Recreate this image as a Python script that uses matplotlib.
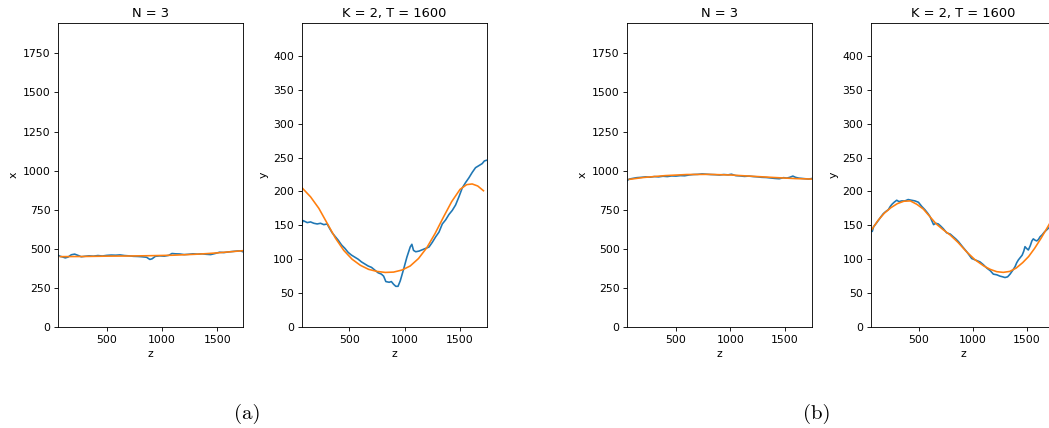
import matplotlib
matplotlib.use("Agg")
import matplotlib.pyplot as plt

# ---------------- data ----------------
# Panel (a), left axes: x vs z
a1_blue_z = [62, 80, 100, 125, 150, 180, 210, 240, 270, 300, 340, 380, 420, 460, 500, 540, 580, 620,
             660, 700, 740, 780, 820, 860, 890, 910, 940, 980, 1020, 1060, 1090, 1120, 1160, 1200,
             1240, 1280, 1320, 1360, 1400, 1440, 1480, 1520, 1560, 1600, 1640, 1680, 1710, 1735]
a1_blue_x = [458, 452, 448, 442, 447, 462, 466, 458, 449, 452, 455, 453, 457, 454, 458, 460, 459, 461,
             457, 455, 452, 451, 449, 446, 432, 436, 452, 455, 453, 458, 470, 468, 467, 463,
             465, 468, 466, 468, 465, 463, 470, 478, 476, 480, 483, 486, 487, 480]
a1_fit_z = [80, 200, 300, 400, 500, 600, 700, 800, 900, 1000, 1100, 1200, 1300, 1400, 1500, 1600, 1700, 1730]
a1_fit_x = [450, 450.5, 451, 452, 453, 453.5, 454, 455, 456, 457.5, 459, 462, 465, 469, 474, 480, 486, 488]

# Panel (a), right axes: y vs z
a2_blue_z = [70, 80, 95, 120, 150, 180, 210, 240, 270, 300, 320, 345, 370, 400, 430, 460, 490, 520,
             550, 580, 610, 640, 670, 700, 730, 760, 790, 810, 830, 860, 880, 900, 920, 940, 960,
             990, 1020, 1050, 1065, 1080, 1100, 1130, 1160, 1190, 1220, 1250, 1280, 1310, 1340,
             1370, 1400, 1430, 1460, 1490, 1520, 1550, 1580, 1610, 1640, 1670, 1700, 1720, 1741]
a2_blue_y = [149, 157, 156, 154, 155, 153, 152, 153, 151, 152, 146, 139, 134, 128, 121, 116, 110, 106,
             103, 100, 96, 93, 90, 88, 84, 80, 78, 75, 67, 66, 67, 63, 60, 60, 68,
             85, 103, 118, 122, 113, 111, 112, 114, 116, 118, 125, 133, 140, 152,
             158, 166, 172, 180, 192, 205, 213, 220, 228, 235, 238, 241, 245, 246]
a2_fit_z = [75, 150, 225, 300, 375, 450, 525, 600, 675, 750, 825, 900, 975, 1050, 1125, 1200,
            1275, 1350, 1425, 1500, 1560, 1610, 1660, 1712]
a2_fit_y = [205, 192, 175, 153, 131, 113, 100, 91, 85, 82, 80.5, 81, 84, 90, 101, 117,
            138, 162, 185, 203, 210, 211, 208, 201]

# Panel (b), left axes: x vs z
b1_blue_z = [52, 70, 100, 140, 180, 220, 260, 300, 340, 380, 420, 460, 500, 540, 580, 620, 660, 700,
             740, 780, 820, 860, 900, 940, 980, 1010, 1050, 1090, 1130, 1170, 1210, 1250, 1290,
             1330, 1370, 1410, 1450, 1490, 1520, 1550, 1575, 1600, 1630, 1660, 1690, 1720, 1754]
b1_blue_x = [937, 946, 950, 955, 957, 960, 958, 962, 960, 964, 962, 966, 965, 968, 967, 972, 975, 976,
             979, 977, 975, 974, 972, 975, 973, 977, 968, 966, 963, 965, 962, 960, 957,
             956, 953, 950, 948, 955, 952, 958, 965, 957, 952, 950, 948, 946, 950]
b1_fit_z = [70, 200, 400, 600, 800, 1000, 1200, 1400, 1600, 1750]
b1_fit_x = [944, 956, 968, 975, 976, 972, 964, 956, 949, 946]

# Panel (b), right axes: y vs z
b2_blue_z = [56, 68, 80, 100, 123, 145, 169, 190, 216, 235, 250, 270, 294, 315, 340, 370, 400, 430,
             463, 495, 525, 555, 580, 602, 618, 635, 655, 679, 700, 725, 756, 790, 818, 840, 865,
             900, 942, 965, 988, 1020, 1065, 1095, 1127, 1160, 1188, 1220, 1250, 1275, 1296, 1320,
             1343, 1365, 1389, 1405, 1420, 1440, 1455, 1470, 1481, 1495, 1512, 1530, 1545, 1558,
             1575, 1590, 1605, 1620, 1640, 1660, 1680, 1700, 1720, 1745, 1768]
b2_blue_y = [143, 141, 148, 152, 157, 162, 167, 170, 173, 178, 181, 184, 187, 185, 186, 186, 188, 187,
             186, 184, 178, 173, 168, 163, 157, 151, 153, 152, 149, 145, 139, 137, 133, 130, 126,
             119, 111, 106, 101, 99, 96, 92, 87, 83, 78, 77, 75, 74, 73, 74,
             78, 83, 89, 95, 99, 103, 106, 112, 118.5, 116, 113.6, 120, 127, 130,
             128, 127, 129, 133, 136, 140, 143, 146, 149, 155, 162]
b2_fit_z = [60, 120, 180, 240, 300, 360, 420, 480, 540, 600, 660, 720, 790, 860, 940, 1020, 1100,
            1160, 1220, 1280, 1340, 1400, 1460, 1515, 1570, 1630, 1700, 1770]
b2_fit_y = [143, 157, 168, 176, 182, 185.5, 186, 181, 174, 163, 152, 144, 135.5, 125, 111, 99, 90,
            85, 81.6, 80.6, 82, 87, 95, 104, 116, 131, 150, 170]

titles = ["N = 3", "K = 2, T = 1600"]
xlabel = "z"
ylabels = ["x", "y"]
x_ticks = [500, 1000, 1500]
left_yticks = [0, 250, 500, 750, 1000, 1250, 1500, 1750]
right_yticks = [0, 50, 100, 150, 200, 250, 300, 350, 400]
panel_labels = ["(a)", "(b)"]

# ---------------- figure ----------------
W, H = 1049, 428
fig = plt.figure(figsize=(W / 100, H / 100), dpi=100)

S = 0.78  # overall scale of the embedded sub-images
plt.rcParams.update({
    "font.size": 10 * S,
    "xtick.major.size": 3.5 * S,
    "ytick.major.size": 3.5 * S,
    "xtick.major.width": 0.8 * S,
    "ytick.major.width": 0.8 * S,
    "xtick.major.pad": 3.5 * S,
    "ytick.major.pad": 3.5 * S,
    "axes.linewidth": 0.8 * S,
    "axes.labelpad": 4 * S,
})

BLUE = "#1f77b4"
ORANGE = "#ff7f0e"

top_px, bot_px = 23.3, 327.0
axw = 185.0
lefts = [58.3, 301.7, 627.3, 871.0]
xlims = [(62, 1735), (70, 1741), (52, 1754), (56, 1768)]

series = [
    (a1_blue_z, a1_blue_x, a1_fit_z, a1_fit_x, 0),
    (a2_blue_z, a2_blue_y, a2_fit_z, a2_fit_y, 1),
    (b1_blue_z, b1_blue_x, b1_fit_z, b1_fit_x, 0),
    (b2_blue_z, b2_blue_y, b2_fit_z, b2_fit_y, 1),
]

for i, (bz, bv, fz, fv, kind) in enumerate(series):
    ax = fig.add_axes([lefts[i] / W, (H - bot_px) / H, axw / W, (bot_px - top_px) / H])
    ax.plot(bz, bv, color=BLUE, lw=1.5 * S)
    ax.plot(fz, fv, color=ORANGE, lw=1.5 * S)
    ax.set_xlim(*xlims[i])
    ax.set_xticks(x_ticks)
    if kind == 0:
        ax.set_ylim(0, 1942)
        ax.set_yticks(left_yticks)
    else:
        ax.set_ylim(0, 448)
        ax.set_yticks(right_yticks)
    ax.set_title(titles[kind], fontsize=12 * S, pad=6 * S)
    ax.set_xlabel(xlabel, fontsize=10 * S)
    ax.set_ylabel(ylabels[kind], fontsize=10 * S)
    ax.tick_params(labelsize=10 * S)

fig.text(247.5 / W, 1 - 414 / H, panel_labels[0], ha="center", va="center",
         family=["cmr10", "DejaVu Serif"], fontsize=15)
fig.text(817 / W, 1 - 414 / H, panel_labels[1], ha="center", va="center",
         family=["cmr10", "DejaVu Serif"], fontsize=15)

fig.savefig("out.png", dpi=100)
